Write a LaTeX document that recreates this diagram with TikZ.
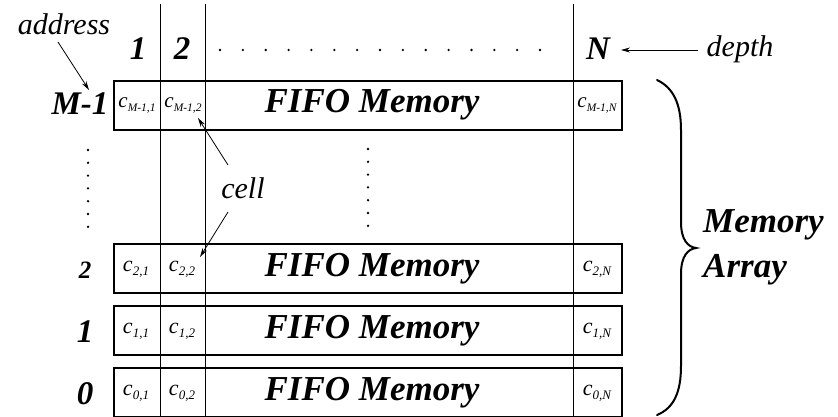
\documentclass[tikz,border=0pt]{standalone}
\usepackage{fontspec}
\setmainfont{Liberation Serif}
\usetikzlibrary{arrows.meta}
\newcommand{\cellab}[1]{{\fontsize{22}{22}\selectfont\itshape c}\raisebox{-4pt}{\fontsize{13}{13}\selectfont\itshape #1}}
\newcommand{\cellabs}[1]{{\fontsize{21}{21}\selectfont\itshape c}\raisebox{-4pt}{\fontsize{11.5}{11.5}\selectfont\itshape #1}}
\begin{document}
\begin{tikzpicture}[x=1pt,y=-1pt,
  big/.style={font=\fontsize{33}{33}\selectfont\bfseries\itshape, inner sep=0, anchor=base},
  fifo/.style={font=\fontsize{35}{35}\selectfont\bfseries\itshape, inner sep=0, anchor=base},
  lab/.style={font=\fontsize{30}{30}\selectfont\itshape, inner sep=0, anchor=base},
  rowbox/.style={draw, line width=2pt, minimum width=508pt, minimum height=49pt, inner sep=0, anchor=north west},
  celltxt/.style={inner sep=0, anchor=base},
  arr/.style={-{Stealth[length=9pt,width=5pt]}, line width=0.8pt},
  vline/.style={line width=0.9pt},
  dot/.style={circle, fill, inner sep=0, minimum size=2.6pt}]
\useasboundingbox (0,0) rectangle (838,417);
% rows
\node[rowbox] (rM) at (113,80) {};
\node[rowbox] (r2) at (113,243) {};
\node[rowbox] (r1) at (113,305) {};
\node[rowbox] (r0) at (113,367) {};
% column lines
\coordinate (v1t) at (160,4);  \coordinate (v1b) at (160,417);
\coordinate (v2t) at (205,4);  \coordinate (v2b) at (205,417);
\coordinate (vNt) at (573,4);  \coordinate (vNb) at (573,417);
\draw[vline] (v1t) -- (v1b);
\draw[vline] (v2t) -- (v2b);
\draw[vline] (vNt) -- (vNb);
% column headers
\node[big] (h1) at (138,60) {1};
\node[big] (h2) at (182,60) {2};
\node[big] (hN) at (598,60) {N};
\foreach \i in {0,...,14} \node[dot] (hd\i) at (220+\i*22.86,50) {};
% depth
\node[lab] (depth) at (740,57) {depth};
\coordinate (dtail) at (698,50);
\coordinate (dtip) at (621,50);
\draw[arr] (dtail) -- (dtip);
% address
\node[lab] (addr) at (64,35) {address};
\coordinate (atail) at (58,42);
\coordinate (atip) at (89,90);
\draw[arr] (atail) -- (atip);
% row labels
\node[big] (lM) at (80,115) {M-1};
\node[big, font=\fontsize{25}{25}\selectfont\bfseries\itshape] (l2) at (85,278) {2};
\node[big] (l1) at (85,342) {1};
\node[big] (l0) at (85,404) {0};
% cells row M-1
\node[celltxt] (cM1) at (137,108) {\cellabs{M-1,1}};
\node[celltxt] (cM2) at (183,108) {\cellabs{M-1,2}};
\node[celltxt] (cMN) at (597,108) {\cellabs{M-1,N}};
\node[fifo] (fM) at (372,113) {FIFO Memory};
% row 2
\node[celltxt] (c21) at (136,271) {\cellab{2,1}};
\node[celltxt] (c22) at (182,271) {\cellab{2,2}};
\node[celltxt] (c2N) at (597,271) {\cellab{2,N}};
\node[fifo] (f2) at (372,276) {FIFO Memory};
% row 1
\node[celltxt] (c11) at (136,333) {\cellab{1,1}};
\node[celltxt] (c12) at (182,333) {\cellab{1,2}};
\node[celltxt] (c1N) at (597,333) {\cellab{1,N}};
\node[fifo] (f1) at (372,338) {FIFO Memory};
% row 0
\node[celltxt] (c01) at (136,395) {\cellab{0,1}};
\node[celltxt] (c02) at (182,395) {\cellab{0,2}};
\node[celltxt] (c0N) at (597,395) {\cellab{0,N}};
\node[fifo] (f0) at (372,400) {FIFO Memory};
% vertical dots
\foreach \i in {0,...,6} {
  \node[dot] (ld\i) at (88,150+\i*12.8) {};
  \node[dot] (md\i) at (368,149+\i*12.8) {};
}
% cell
\node[lab] (cell) at (243,198) {cell};
\coordinate (ct1) at (228,165); \coordinate (ch1) at (198,118);
\coordinate (ct2) at (228,212); \coordinate (ch2) at (200,257);
\draw[arr] (ct1) -- (ch1);
\draw[arr] (ct2) -- (ch2);
% brace
\draw[line width=2pt, line cap=round]
  (657,80) .. controls (674,88) and (681,105) .. (681,130) -- (681,222)
  .. controls (681,240) and (688,247) .. (696,248)
  .. controls (688,249) and (681,256) .. (681,274) -- (681,366)
  .. controls (681,392) and (674,408) .. (657,415);
\node[lab, anchor=base west, font=\fontsize{35}{35}\selectfont\bfseries\itshape] (mem) at (703,232) {Memory};
\node[lab, anchor=base west, font=\fontsize{35}{35}\selectfont\bfseries\itshape] (arr2) at (703,277) {Array};
\end{tikzpicture}
\end{document}
